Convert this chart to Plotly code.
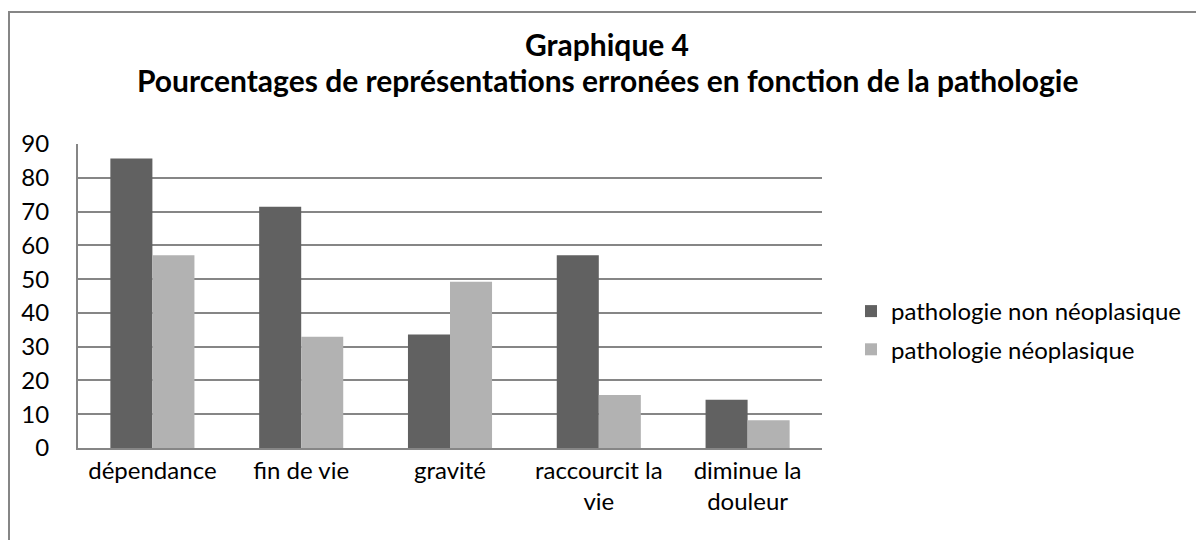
import plotly.graph_objects as go

categories = ["dépendance", "fin de vie", "gravité", "raccourcit la<br>vie", "diminue la<br>douleur"]
series_names = ["pathologie non néoplasique", "pathologie néoplasique"]
non_neo = [85.7, 71.4, 33.6, 57.1, 14.3]
neo = [57.1, 32.9, 49.2, 15.7, 8.2]
y_ticks = [0, 10, 20, 30, 40, 50, 60, 70, 80, 90]

OFF = 8  # page body margin
W, H = 1204 - OFF, 540 - OFF
# plot area in page pixels
PX0, PX1, PY0, PY1 = 78, 822, 144, 448
L, R, T, B = PX0 - OFF, (W + OFF) - PX1, PY0 - OFF, (H + OFF) - PY1
pw, ph = PX1 - PX0, PY1 - PY0

def px_x(px):
    return (px - PX0) / pw

def px_y(py):
    return (PY1 - py) / ph

FONT = "Lato"
fig = go.Figure()
fig.add_trace(go.Bar(x=categories, y=non_neo, name=series_names[0], legendgroup="a",
                     marker=dict(color="#616161", line=dict(width=0))))
fig.add_trace(go.Bar(x=categories, y=neo, name=series_names[1], legendgroup="b",
                     marker=dict(color="#b2b2b2", line=dict(width=0))))

fig.update_layout(
    width=W, height=H,
    margin=dict(l=L, r=R, t=T, b=B, pad=0),
    paper_bgcolor="white", plot_bgcolor="white",
    barmode="group", bargap=0.435, bargroupgap=0,
    font=dict(family=FONT, size=24, color="black"),
    showlegend=True,
    legend=dict(x=px_x(851), y=px_y(289), xanchor="left", yanchor="top",
                font=dict(size=24), itemsizing="constant", itemwidth=30, tracegroupgap=4,
                bgcolor="rgba(0,0,0,0)"),
    xaxis=dict(showline=True, linecolor="#868686", linewidth=2, showgrid=False,
               ticks="", tickfont=dict(size=24), fixedrange=True),
    yaxis=dict(range=[0, 90], tickvals=y_ticks, showline=True, linecolor="#868686", linewidth=2,
               showgrid=True, gridcolor="#868686", gridwidth=1.5, ticks="",
               tickfont=dict(size=24), ticklabelstandoff=22, zeroline=False),
    annotations=[
        dict(text="<b>Graphique 4</b>", xref="paper", yref="paper", x=px_x(607), y=px_y(44),
             xanchor="center", yanchor="middle", showarrow=False, font=dict(size=30, family=FONT)),
        dict(text="<b>Pourcentages de représentations erronées en fonction de la pathologie</b>",
             xref="paper", yref="paper", x=px_x(607), y=px_y(80),
             xanchor="center", yanchor="middle", showarrow=False, font=dict(size=30, family=FONT)),
    ],
    shapes=[
        dict(type="rect", xref="paper", yref="paper", x0=px_x(9), y0=px_y(600), x1=px_x(1260), y1=px_y(12),
             line=dict(color="#868686", width=2), fillcolor="rgba(0,0,0,0)", layer="below"),
    ],
)

fig.write_html("out.html")
